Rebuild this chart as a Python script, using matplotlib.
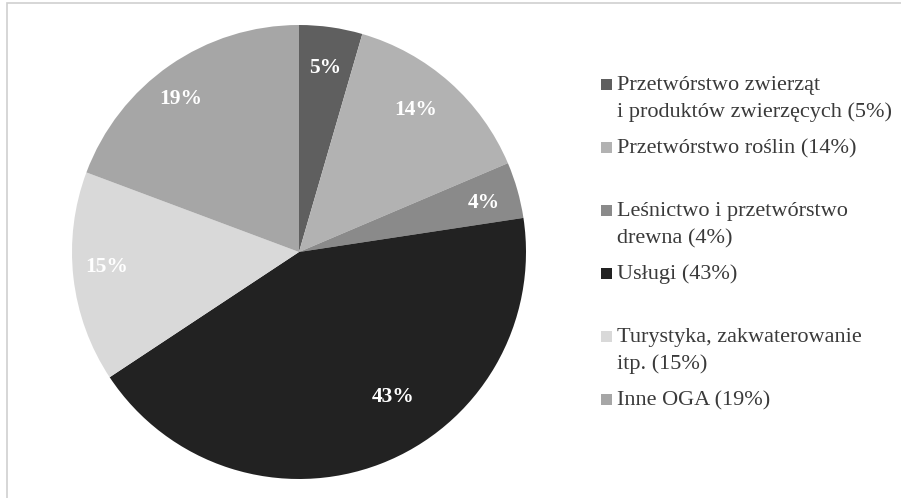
import matplotlib
matplotlib.use('Agg')
import numpy as np
import matplotlib.pyplot as plt
from matplotlib.patches import Rectangle

# udzialy (kolejnosc zgodnie z ruchem wskazowek zegara od gory)
shares = [4.5, 14.1, 4.0, 43.1, 15.0, 19.3]
pct_labels = ['5%', '14%', '4%', '43%', '15%', '19%']
legend_labels = [
    'Przetwórstwo zwierząt\ni produktów zwierzęcych (5%)',
    'Przetwórstwo roślin (14%)',
    'Leśnictwo i przetwórstwo\ndrewna (4%)',
    'Usługi (43%)',
    'Turystyka, zakwaterowanie\nitp. (15%)',
    'Inne OGA (19%)',
]
colors = ['#5f5f5f', '#b2b2b2', '#8a8a8a', '#222222', '#d9d9d9', '#a6a6a6']

plt.rcParams['font.family'] = ['Liberation Serif', 'DejaVu Serif']

W, H = 901, 498
fig = plt.figure(figsize=(W / 100, H / 100), dpi=100)

# pie area: centre ~(299, 252) px, radius ~227 px
ax = fig.add_axes([72 / W, (H - 479) / H, 454 / W, 454 / H])
wedges, texts = ax.pie(shares, colors=colors, startangle=90, counterclock=False,
                       labels=pct_labels, labeldistance=0.82,
                       wedgeprops=dict(linewidth=0),
                       textprops=dict(color='white', fontweight='bold',
                                      fontsize=15.5, ha='center', va='center'))
# nudge labels roughly where the original puts them
dist = [0.82, 0.81, 0.84, 0.76, 0.85, 0.85]
shift = [0, -2, 1, -12, 2, -3]   # degrees, clockwise
for t, w, d, s in zip(texts, wedges, dist, shift):
    ang = np.deg2rad((w.theta1 + w.theta2) / 2 - s)
    t.set_position((d * np.cos(ang), d * np.sin(ang)))
ax.set_xlim(-1, 1)
ax.set_ylim(-1, 1)
ax.set_aspect('equal')
ax.axis('off')

# legend drawn by hand to follow the irregular spacing
base0, step, line_gap = 90, 63, 27
for i, (lab, col) in enumerate(zip(legend_labels, colors)):
    base = base0 + i * step
    fig.add_artist(Rectangle((601 / W, (H - base) / H), 11 / W, 11 / H,
                             transform=fig.transFigure, facecolor=col,
                             edgecolor='none'))
    for j, line in enumerate(lab.split('\n')):
        fig.text(617 / W, (H - base - j * line_gap) / H, line, fontsize=16,
                 color='#3a3a3a', ha='left', va='baseline')

# thin frame (only top/left edges visible)
fig.add_artist(Rectangle((6.5 / W, -0.1), 1.2, (H - 3.5) / H + 0.1,
                         transform=fig.transFigure, fill=False,
                         edgecolor='#cfcfcf', linewidth=1.2))

fig.savefig('out.png', dpi=100)
